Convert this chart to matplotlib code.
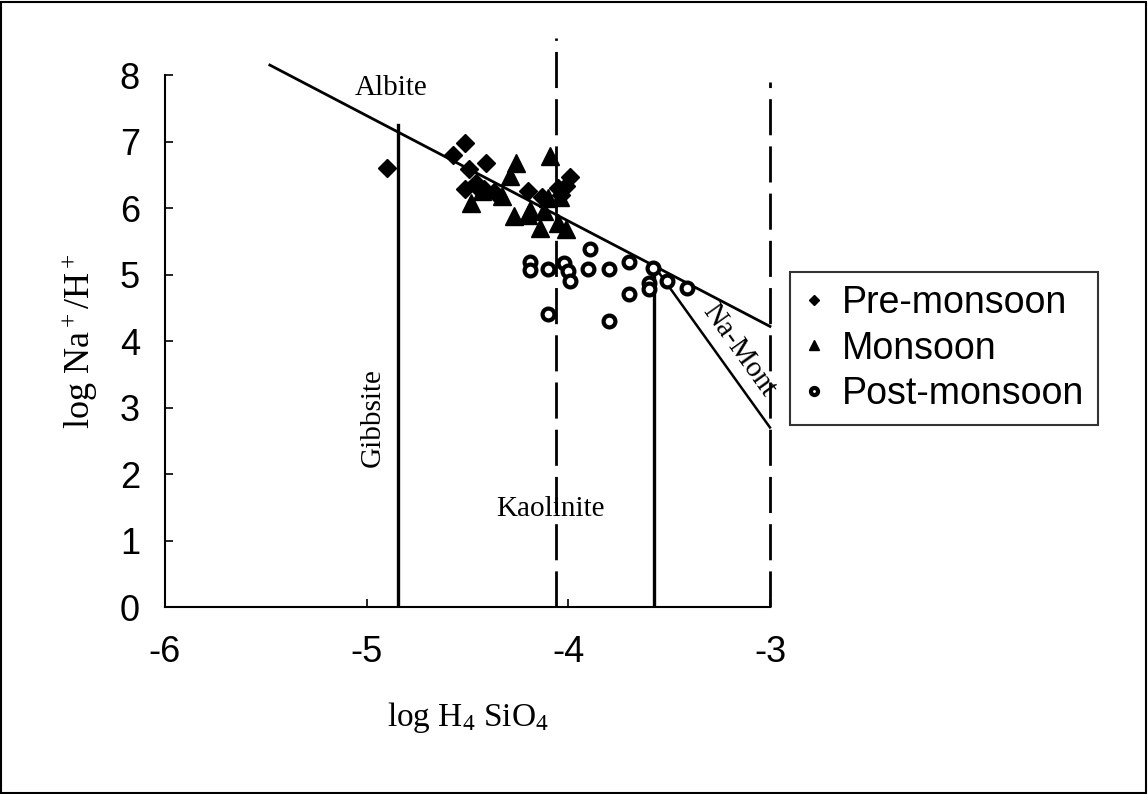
import matplotlib
matplotlib.use("Agg")
import matplotlib.pyplot as plt
from matplotlib.patches import Rectangle

plt.rcParams["mathtext.fontset"] = "custom"
plt.rcParams["mathtext.rm"] = "Liberation Serif"
plt.rcParams["mathtext.it"] = "Liberation Serif:italic"
plt.rcParams["mathtext.bf"] = "Liberation Serif:bold"

# Sample points: log H4SiO4 (x) and log Na+/H+ (y)
pre_x = [-4.90, -4.51, -4.57, -4.41, -4.49, -4.46, -4.51, -4.42, -4.37,
         -3.99, -4.01, -4.035, -4.20, -4.13, -4.45, -4.05]
pre_y = [6.60, 6.98, 6.80, 6.68, 6.58, 6.38, 6.28, 6.28, 6.24,
         6.47, 6.33, 6.20, 6.26, 6.17, 6.30, 6.30]

mon_x = [-4.09, -4.26, -4.29, -4.48, -4.33, -4.19, -4.27, -4.12, -4.14,
         -4.05, -4.01, -4.04, -4.20, -4.43, -4.10]
mon_y = [6.78, 6.68, 6.48, 6.07, 6.18, 5.97, 5.88, 5.95, 5.70,
         5.77, 5.68, 6.17, 5.90, 6.25, 6.15]

post_x = [-3.89, -4.19, -4.19, -4.10, -4.02, -4.00, -3.99, -3.90, -3.80,
          -3.70, -3.70, -4.10, -3.80, -3.60, -3.60, -3.58, -3.51, -3.41]
post_y = [5.38, 5.19, 5.07, 5.08, 5.18, 5.06, 4.90, 5.08, 5.08,
          5.19, 4.70, 4.40, 4.30, 4.87, 4.78, 5.10, 4.90, 4.80]

# Stability field boundaries
albite_x = [-5.48, -3.0]
albite_y = [8.15, 4.22]
gibbsite_x = -4.845
gibbsite_top = 7.25
kaol_dash_x = -4.06
kaol_dash_top = 8.55
right_dash_x = -3.0
right_dash_top = 7.9
kaol_solid_x = -3.577
kaol_solid_top = 5.14
namont_x = [-3.577, -3.0]
namont_y = [5.14, 2.70]

x_ticks = [-6, -5, -4, -3]
y_ticks = [0, 1, 2, 3, 4, 5, 6, 7, 8]

sans = "Liberation Sans"
serif = "Liberation Serif"

fig = plt.figure(figsize=(11.48, 7.94), dpi=100)
fig.patches.append(Rectangle((0.001, 0.001), 0.997, 0.997, transform=fig.transFigure,
                             fill=False, edgecolor="black", linewidth=1.5))

ax = fig.add_axes([0.1437, 0.2355, 0.5270, 0.670])
ax.set_xlim(-6, -3)
ax.set_ylim(0, 8)
for s in ("top", "right"):
    ax.spines[s].set_visible(False)
for s in ("left", "bottom"):
    ax.spines[s].set_linewidth(1.5)

ax.set_xticks(x_ticks)
ax.set_yticks(y_ticks)
ax.set_xticklabels([str(v) for v in x_ticks], fontfamily=sans, fontsize=26)
ax.set_yticklabels([str(v) for v in y_ticks], fontfamily=sans, fontsize=26)
ax.tick_params(axis="x", direction="in", length=6, width=1.2, pad=20)
ax.tick_params(axis="y", direction="in", length=6, width=1.2, pad=18)

# Boundary lines
dash = (0, (13, 4))
ax.plot(albite_x, albite_y, color="black", lw=2.0, clip_on=False)
ax.plot([gibbsite_x, gibbsite_x], [0, gibbsite_top], color="black", lw=2.4)
ax.plot([kaol_solid_x, kaol_solid_x], [0, kaol_solid_top], color="black", lw=2.4)
ax.plot(namont_x, namont_y, color="black", lw=1.8, clip_on=False)
ax.plot([kaol_dash_x, kaol_dash_x], [0, kaol_dash_top], color="black", lw=2.0,
        linestyle=dash, clip_on=False)
ax.plot([right_dash_x, right_dash_x], [0, right_dash_top], color="black", lw=2.0,
        linestyle=dash, clip_on=False)

# Samples
ax.plot(pre_x, pre_y, linestyle="none", marker="D", markersize=9,
        color="black", label="Pre-monsoon", zorder=3)
ax.plot(mon_x, mon_y, linestyle="none", marker="^", markersize=13,
        color="black", label="Monsoon", zorder=3)
ax.plot(post_x, post_y, linestyle="none", marker="o", markersize=8.5,
        markerfacecolor="white", markeredgecolor="black", markeredgewidth=3.0,
        label="Post-monsoon", zorder=3)

# Field names
ax.text(-4.88, 7.8, "Albite", fontfamily=serif, fontsize=21, ha="center", va="center")
ax.text(-4.97, 2.85, "Gibbsite", fontfamily=serif, fontsize=21, ha="center", va="center",
        rotation=90)
ax.text(-4.09, 1.48, "Kaolinite", fontfamily=serif, fontsize=21, ha="center", va="center")
ax.text(-3.155, 3.86, "Na-Mont", fontfamily=serif, fontsize=21, ha="center", va="center",
        rotation=-54.5, rotation_mode="anchor")

ax.set_xlabel(r"log H$_4$ SiO$_4$", fontfamily=serif, fontsize=24, labelpad=22)
ax.set_ylabel(r"log Na$^+$/H$^+$", fontfamily=serif, fontsize=26, labelpad=14)

leg = fig.legend(loc="center left", bbox_to_anchor=(0.688, 0.561),
                 prop={"family": sans, "size": 27}, frameon=True, fancybox=False,
                 edgecolor="black", handlelength=0.6, handletextpad=0.45,
                 labelspacing=0.25, borderpad=0.35, borderaxespad=0.0,
                 markerscale=0.6)
leg.get_frame().set_linewidth(1.5)

fig.savefig("out.png", dpi=100, facecolor="white")
